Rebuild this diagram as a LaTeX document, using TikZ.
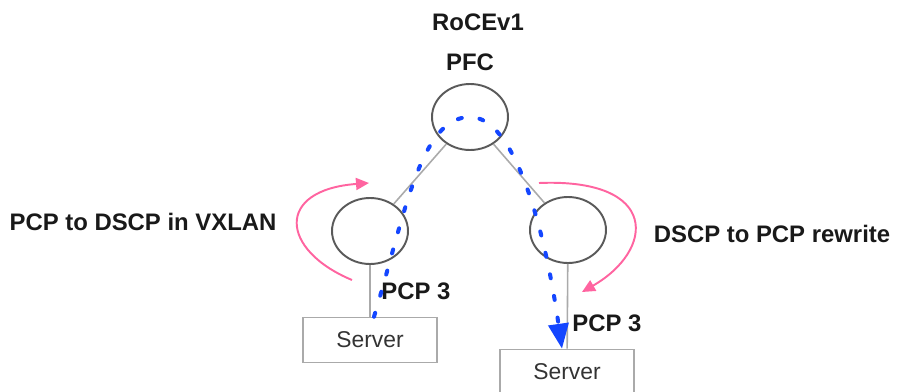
\documentclass[tikz,border=0pt]{standalone}
\usepackage{fontspec}
\setmainfont{Liberation Sans}
\usetikzlibrary{shapes.geometric,arrows.meta}
\definecolor{flowblue}{RGB}{20,70,255}
\definecolor{rwpink}{RGB}{255,100,160}
\definecolor{linkgray}{RGB}{170,170,170}
\definecolor{edgegray}{RGB}{90,90,90}

\begin{document}
\begin{tikzpicture}[
  x=0.02cm, y=-0.02cm,
  sw/.style={ellipse, draw=edgegray, line width=1.1pt, minimum width=1.52cm, minimum height=1.32cm, inner sep=0pt},
  srv/.style={rectangle, draw=linkgray, line width=0.9pt, minimum width=2.68cm, minimum height=0.9cm, font=\fontsize{13}{15}\selectfont, text=black!80},
  lbl/.style={font=\bfseries\fontsize{13.6}{16}\selectfont, inner sep=0pt, text=black!90},
  link/.style={draw=linkgray, line width=0.9pt},
  flow/.style={draw=flowblue, line width=2.3pt, line cap=round, dash pattern=on 2.3pt off 10.2pt, -{Triangle[length=5mm, width=4mm]}},
  rw/.style={draw=rwpink, line width=1.1pt, -{Triangle[length=2.6mm, width=2.4mm]}}
]
\useasboundingbox (0,0) rectangle (897,392);

\node[lbl] (roce) at (478,22) {RoCEv1};
\node[lbl] (pfc) at (470,62) {PFC};
\node[sw] (top) at (470,117) {};
\node[sw] (ls) at (370,231) {};
\node[sw] (rs) at (568,230) {};
\node[srv] (lsrv) at (370,340) {Server};
\node[srv] (rsrv) at (567,372) {Server};
\node[lbl] (lpcp) at (416,291) {PCP 3};
\node[lbl] (rpcp) at (607,323) {PCP 3};
\node[lbl] (ltxt) at (143,222) {PCP to DSCP in VXLAN};
\node[lbl] (rtxt) at (772,234) {DSCP to PCP rewrite};

\draw[link] (top) -- (ls);
\draw[link] (top) -- (rs);
\draw[link] (ls) -- (lsrv);
\draw[link] (rs) -- (rsrv);

% traffic path
\draw[flow] ([xshift=0.08cm]lsrv.north) .. controls (405,215) and (420,117) .. (top.center)
  .. controls (515,117) and (545,230) .. ([xshift=-0.1cm]rsrv.north);

% rewrite loops
\coordinate (la) at (352,280);
\coordinate (lb) at (369,183);
\coordinate (ra) at (539,183);
\coordinate (rb) at (582,292);
\draw[rw] (la) .. controls (280,250) and (275,190) .. (lb);
\draw[rw] (ra) .. controls (660,178) and (655,250) .. (rb);
\end{tikzpicture}
\end{document}
